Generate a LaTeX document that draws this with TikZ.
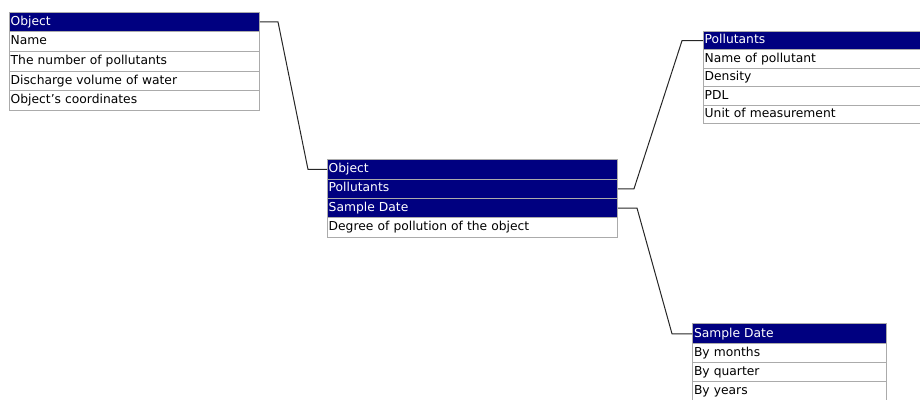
\documentclass[tikz,border=0pt]{standalone}
\usepackage{fontspec}
\setmainfont{DejaVu Sans}
\definecolor{hdrblue}{HTML}{000080}
\definecolor{gridgray}{HTML}{ABABAB}
\begin{document}
\begin{tikzpicture}[x=1pt,y=-1pt,
  cell/.style={draw=gridgray, line width=1pt, rectangle, anchor=north west,
    inner xsep=1.2pt, inner ysep=0pt, align=left, text height=9pt, text depth=2.6pt,
    font=\fontsize{12.3}{13}\selectfont},
  hdr/.style={cell, fill=hdrblue, text=white},
  row/.style={cell, fill=white, text=black},
  link/.style={draw=black!85, line width=1pt}]
\useasboundingbox (0,0) rectangle (920,399);
\clip (0,0) rectangle (920,399);
% Table: Object
\node[hdr, text width=247.5pt, minimum height=19.7pt] (o0) at (9,11.5) {Object};
\node[row, text width=247.5pt, minimum height=19.7pt] (o1) at (9,31.2) {Name};
\node[row, text width=247.5pt, minimum height=19.7pt] (o2) at (9,50.9) {The number of pollutants};
\node[row, text width=247.5pt, minimum height=19.7pt] (o3) at (9,70.6) {Discharge volume of water};
\node[row, text width=247.5pt, minimum height=19.7pt] (o4) at (9,90.3) {Object{\char"27}s coordinates};
% Table: centre
\node[hdr, text width=287.5pt, minimum height=19.3pt] (c0) at (327,159.3) {Object};
\node[hdr, text width=287.5pt, minimum height=19.3pt] (c1) at (327,178.6) {Pollutants};
\node[hdr, text width=287.5pt, minimum height=19.3pt] (c2) at (327,197.9) {Sample Date};
\node[row, text width=287.5pt, minimum height=19.3pt] (c3) at (327,217.2) {Degree of pollution of the object};
% Table: Pollutants
\node[hdr, text width=230pt, minimum height=18.4pt] (p0) at (703,31) {Pollutants};
\node[row, text width=230pt, minimum height=18.4pt] (p1) at (703,49.4) {Name of pollutant};
\node[row, text width=230pt, minimum height=18.4pt] (p2) at (703,67.8) {Density};
\node[row, text width=230pt, minimum height=18.4pt] (p3) at (703,86.2) {PDL};
\node[row, text width=230pt, minimum height=18.4pt] (p4) at (703,104.6) {Unit of measurement};
% Table: Sample Date
\node[hdr, text width=191pt, minimum height=20pt] (s0) at (692.3,323.3) {Sample Date};
\node[row, text width=191pt, minimum height=19pt] (s1) at (692.3,343.3) {By months};
\node[row, text width=191pt, minimum height=19pt] (s2) at (692.3,362.3) {By quarter};
\node[row, text width=191pt, minimum height=19pt] (s3) at (692.3,381.3) {By years};
% connectors
\coordinate (a1) at (278,0);
\coordinate (a2) at (308,0);
\draw[link] (o0.east) -- (o0.east -| a1) -- (c0.west -| a2) -- (c0.west);
\coordinate (b1) at (634,0);
\coordinate (b2) at (682,0);
\draw[link] (c1.east) -- (c1.east -| b1) -- (p0.west -| b2) -- (p0.west);
\coordinate (d1) at (637,0);
\coordinate (d2) at (672,0);
\draw[link] (c2.east) -- (c2.east -| d1) -- (s0.west -| d2) -- (s0.west);
\end{tikzpicture}
\end{document}
